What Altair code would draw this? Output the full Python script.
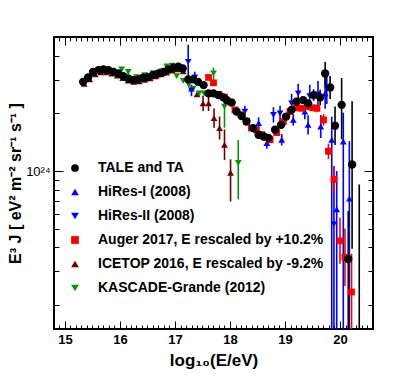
import altair as alt
import pandas as pd

# ---------------- data (log10 of E^3 J in eV^2 m^-2 sr^-1 s^-1) ----------------
TA_X = [15.33, 15.42, 15.51, 15.61, 15.70, 15.79, 15.88, 15.97, 16.06, 16.15, 16.24, 16.33,
        16.42, 16.51, 16.60, 16.70, 16.79, 16.88, 16.97, 17.06, 17.14, 17.24, 17.33, 17.42,
        17.52, 17.61, 17.70, 17.79, 17.88, 17.94, 18.03, 18.12, 18.21, 18.30, 18.42, 18.52,
        18.61, 18.70, 18.82, 18.93, 19.02, 19.12, 19.21, 19.33, 19.42, 19.52, 19.64, 19.73,
        19.82, 19.91, 20.03, 20.15, 20.22, 20.35]
TA_V = [24.465, 24.488, 24.517, 24.526, 24.530, 24.526, 24.517, 24.509, 24.495, 24.483, 24.474, 24.478,
        24.487, 24.490, 24.500, 24.509, 24.517, 24.530, 24.539, 24.544, 24.535, 24.478, 24.478, 24.465,
        24.448, 24.405, 24.405, 24.396, 24.384, 24.370, 24.357, 24.310, 24.287, 24.258, 24.224, 24.189,
        24.181, 24.172, 24.215, 24.241, 24.284, 24.319, 24.362, 24.370, 24.353, 24.396, 24.384, 24.509,
        24.436, 24.236, 24.345, 23.541, 24.034, 23.000]
TA_DN = [0.01] * 45 + [0.03, 0.04, 0.06, 0.06, 0.10, 0.18, 0.60, 0.44, 0.00]
TA_UP = [0.01] * 45 + [0.03, 0.04, 0.06, 0.06, 0.10, 0.14, 0.25, 0.33, 0.93]

H1_X = [18.52, 18.67, 18.94, 19.15, 19.36, 19.42, 19.65, 19.73, 19.85, 19.94, 20.06, 20.17]
H1_V = [24.250, 24.146, 24.163, 24.267, 24.310, 24.241, 24.232, 24.405, 24.163, 23.800, 24.154, 23.856]
H1_DN = [0.03, 0.03, 0.03, 0.03, 0.04, 0.05, 0.06, 0.08, 1.10, 0.70, 1.10, 0.80]
H1_UP = [0.03, 0.03, 0.03, 0.03, 0.04, 0.05, 0.06, 0.08, 0.12, 0.20, 0.15, 0.30]

H2_X = [17.24, 17.30, 17.36, 18.27, 18.79, 18.91, 19.12, 19.24, 19.45, 19.60, 19.76, 19.89]
H2_V = [24.569, 24.420, 24.488, 24.310, 24.293, 24.300, 24.353, 24.405, 24.390, 24.400, 24.430, 23.723]
H2_DN = [0.08, 0.03, 0.03, 0.03, 0.04, 0.04, 0.05, 0.05, 0.06, 0.07, 0.08, 0.80]
H2_UP = [0.09, 0.03, 0.03, 0.03, 0.04, 0.04, 0.05, 0.05, 0.06, 0.07, 0.08, 0.30]

AU_X = [17.61, 17.70, 17.80, 17.90, 18.00, 18.09, 18.21, 18.30, 18.39, 18.48, 18.58, 18.65,
        18.73, 18.85, 18.97, 19.09, 19.20, 19.30, 19.42, 19.50, 19.58, 19.70, 19.79, 19.89,
        20.00, 20.09, 20.21]
AU_V = [24.488, 24.460, 24.400, 24.385, 24.360, 24.319, 24.293, 24.260, 24.224, 24.215, 24.190, 24.175,
        24.163, 24.200, 24.258, 24.310, 24.330, 24.327, 24.336, 24.330, 24.327, 24.267, 24.103, 23.956,
        23.636, 23.550, 23.369]
AU_DN = [0.015] * 20 + [0.02, 0.03, 0.04, 0.07, 0.12, 0.15, 0.30]
AU_UP = [0.015] * 20 + [0.02, 0.03, 0.04, 0.07, 0.12, 0.15, 0.20]

IC_X = [15.35, 15.45, 15.55, 15.65, 15.75, 15.85, 15.95, 16.05, 16.15, 16.25, 16.35, 16.45,
        16.55, 16.65, 16.75, 16.85, 16.95, 17.05, 17.15, 17.30, 17.40, 17.51, 17.61, 17.71,
        17.81, 17.90, 18.01]
IC_V = [24.455, 24.478, 24.505, 24.515, 24.515, 24.508, 24.498, 24.485, 24.472, 24.465, 24.468, 24.476,
        24.484, 24.494, 24.504, 24.514, 24.524, 24.530, 24.520, 24.430, 24.400, 24.353, 24.353, 24.276,
        24.224, 24.137, 23.991]
IC_DN = [0.01] * 21 + [0.04, 0.04, 0.05, 0.06, 0.08, 0.15]
IC_UP = [0.01] * 21 + [0.04, 0.04, 0.05, 0.06, 0.08, 0.07]

KG_X = [16.03, 16.15, 16.30, 16.45, 16.60, 16.75, 16.85, 16.95, 17.03, 17.15, 17.25, 17.33,
        17.44, 17.53, 17.70, 17.90, 18.15]
KG_V = [24.530, 24.517, 24.490, 24.500, 24.510, 24.520, 24.545, 24.550, 24.495, 24.470, 24.450, 24.430,
        24.405, 24.405, 24.509, 24.336, 24.042]
KG_DN = [0.01] * 14 + [0.05, 0.11, 0.19]
KG_UP = [0.01] * 14 + [0.03, 0.05, 0.12]

SERIES = ["TALE and TA", "HiRes-I (2008)", "HiRes-II (2008)",
          "Auger 2017, E rescaled by +10.2%", "ICETOP 2016, E rescaled by -9.2%",
          "KASCADE-Grande (2012)"]
COLORS = ["#000000", "#0000ff", "#0000ff", "#ff0000", "#6e0000", "#009a00"]
SHAPES = ["circle", "triangle-up", "triangle-down", "square", "triangle-up", "triangle-down"]

X_TICKS = [round(14.8 + 0.1 * i, 1) for i in range(58)]
Y_TICKS = [k * 1e23 for k in range(2, 10)] + [k * 1e24 for k in range(1, 5)]

# ---------------- table ----------------
rows = []
def add(idx, xs, vs, dn, up):
    for x, v, d, u in zip(xs, vs, dn, up):
        rows.append({"series": SERIES[idx], "clr": COLORS[idx], "x": x, "y": 10 ** v,
                     "lo": 10 ** (v - d), "hi": 10 ** (v + u)})

add(4, IC_X, IC_V, IC_DN, IC_UP)
add(5, KG_X, KG_V, KG_DN, KG_UP)
add(1, H1_X, H1_V, H1_DN, H1_UP)
add(2, H2_X, H2_V, H2_DN, H2_UP)
add(3, AU_X, AU_V, AU_DN, AU_UP)
add(0, TA_X, TA_V, TA_DN, TA_UP)
df = pd.DataFrame(rows)
df["order"] = range(len(df))

W, H = 319, 292
FONT = "Liberation Sans"
xscale = alt.Scale(domain=[14.8, 20.6], nice=False, zero=False)
yscale = alt.Scale(type="log", domain=[1.5e23, 5e24], nice=False)

major_x = "abs(datum.value - round(datum.value)) < 0.01"
major_y = "abs(datum.value - 1e24) < 1e20"
xtick = {"condition": {"test": major_x, "value": 8}, "value": 4}
ytick = {"condition": {"test": major_y, "value": 9}, "value": 5}

legend = alt.Legend(orient="none", legendX=14, legendY=124, title="",
                    labelFont=FONT, labelFontWeight="bold", labelFontSize=14,
                    labelColor="black", symbolSize=60,
                    labelOffset=16, rowPadding=10, padding=0, labelLimit=400)
color = alt.Color("series:N", scale=alt.Scale(domain=SERIES, range=COLORS), legend=legend)
shape = alt.Shape("series:N", scale=alt.Scale(domain=SERIES, range=SHAPES), legend=legend)

# Layer A: error bars + labelled axes
errors = alt.Chart(df).mark_rule(strokeWidth=1.6, clip=True).encode(
    x=alt.X("x:Q", scale=xscale,
            axis=alt.Axis(orient="bottom", values=[15, 16, 17, 18, 19, 20], format="d",
                          ticks=False, domain=False, grid=False, labelFont=FONT,
                          labelFontWeight="bold", labelFontSize=13, labelColor="black",
                          labelPadding=4,
                          title="log₁₀(E/eV)", titleFont=FONT, titleFontSize=17,
                          titleFontWeight="bold", titleColor="black", titlePadding=6)),
    y=alt.Y("lo:Q", scale=yscale,
            axis=alt.Axis(orient="left", values=[1e24], labelExpr="'10²⁴'", ticks=False,
                          domain=False, grid=False, labelFont=FONT, labelFontSize=13,
                          labelColor="black", labelPadding=4,
                          title="E³ J  [ eV² m⁻² sr⁻¹ s⁻¹ ]", titleFont=FONT, titleFontSize=16,
                          titleFontWeight="bold", titleColor="black", titlePadding=2)),
    y2="hi:Q",
    color=alt.Color("clr:N", scale=None),
    order="order:Q",
)

# Layer B: other experiments' markers + inward ticks on bottom and left
others = alt.Chart(df).transform_filter(alt.datum.series != SERIES[0]).mark_point(
    filled=True, opacity=1, size=46, clip=True).encode(
    x=alt.X("x:Q", scale=xscale,
            axis=alt.Axis(orient="top", offset=-H, values=X_TICKS, labels=False, domain=False,
                          grid=False, tickSize=xtick, tickColor="black", tickWidth=1, title=None)),
    y=alt.Y("y:Q", scale=yscale,
            axis=alt.Axis(orient="right", offset=-W, values=Y_TICKS, labels=False, domain=False,
                          grid=False, tickSize=ytick, tickColor="black", tickWidth=1, title=None)),
    color=color, shape=shape, order="order:Q",
)

# Layer C: TALE and TA markers + inward ticks on top and right
ta = alt.Chart(df).transform_filter(alt.datum.series == SERIES[0]).mark_point(
    filled=True, opacity=1, size=70, clip=True).encode(
    x=alt.X("x:Q", scale=xscale,
            axis=alt.Axis(orient="bottom", offset=-H, values=X_TICKS, labels=False, domain=False,
                          grid=False, tickSize=xtick, tickColor="black", tickWidth=1, title=None)),
    y=alt.Y("y:Q", scale=yscale,
            axis=alt.Axis(orient="left", offset=-W, values=Y_TICKS, labels=False, domain=False,
                          grid=False, tickSize=ytick, tickColor="black", tickWidth=1, title=None)),
    color=color, shape=shape,
)

chart = alt.layer(errors, others, ta).resolve_axis(x="independent", y="independent").properties(
    width=W, height=H,
    background="white",
    autosize=alt.AutoSizeParams(type="none"),
    padding={"left": 46, "top": 29, "right": 30, "bottom": 40},
).configure_view(stroke="black", strokeWidth=2)

chart.save("out.html", embed_options={"renderer": "svg", "actions": False})
